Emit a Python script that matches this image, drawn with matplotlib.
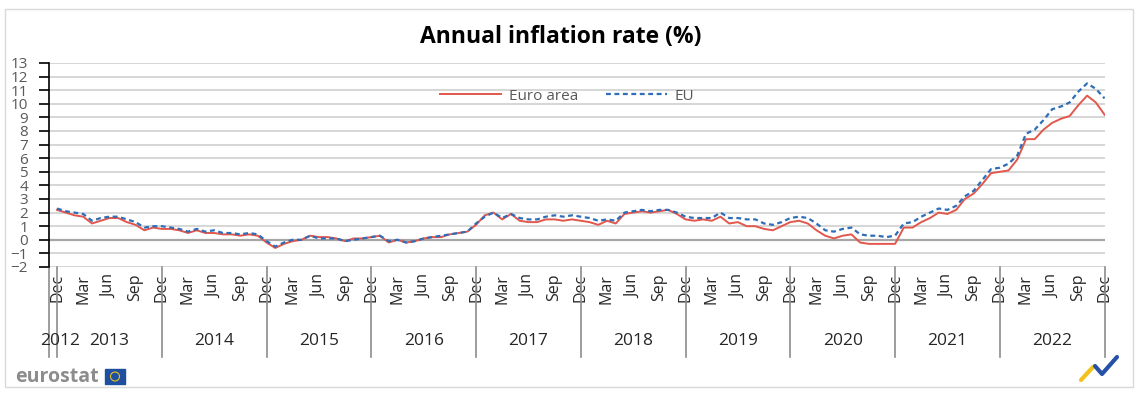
import matplotlib
matplotlib.use("Agg")
import matplotlib.pyplot as plt
import matplotlib.transforms as mtransforms
from matplotlib.patches import Rectangle, Ellipse
from matplotlib.lines import Line2D

plt.rcParams['font.family'] = ['Open Sans', 'DejaVu Sans']

# monthly annual inflation, Dec 2012 .. Dec 2022
euro_area = [2.2,
             2.0, 1.8, 1.7, 1.2, 1.4, 1.6, 1.6, 1.3, 1.1, 0.7, 0.9, 0.8,
             0.8, 0.7, 0.5, 0.7, 0.5, 0.5, 0.4, 0.4, 0.3, 0.4, 0.3, -0.2,
             -0.6, -0.3, -0.1, 0.0, 0.3, 0.2, 0.2, 0.1, -0.1, 0.1, 0.1, 0.2,
             0.3, -0.2, 0.0, -0.2, -0.1, 0.1, 0.2, 0.2, 0.4, 0.5, 0.6, 1.1,
             1.8, 2.0, 1.5, 1.9, 1.4, 1.3, 1.3, 1.5, 1.5, 1.4, 1.5, 1.4,
             1.3, 1.1, 1.4, 1.2, 1.9, 2.0, 2.1, 2.0, 2.1, 2.2, 1.9, 1.5,
             1.4, 1.5, 1.4, 1.7, 1.2, 1.3, 1.0, 1.0, 0.8, 0.7, 1.0, 1.3,
             1.4, 1.2, 0.7, 0.3, 0.1, 0.3, 0.4, -0.2, -0.3, -0.3, -0.3, -0.3,
             0.9, 0.9, 1.3, 1.6, 2.0, 1.9, 2.2, 3.0, 3.4, 4.1, 4.9, 5.0,
             5.1, 5.9, 7.4, 7.4, 8.1, 8.6, 8.9, 9.1, 9.9, 10.6, 10.1, 9.2]

eu = [2.3,
      2.1, 2.0, 1.9, 1.4, 1.6, 1.7, 1.7, 1.5, 1.3, 0.9, 1.0, 1.0,
      0.9, 0.8, 0.6, 0.8, 0.6, 0.7, 0.5, 0.5, 0.4, 0.5, 0.4, -0.1,
      -0.5, -0.2, 0.0, 0.0, 0.3, 0.1, 0.1, 0.1, -0.1, 0.0, 0.1, 0.2,
      0.3, -0.1, 0.0, -0.2, -0.1, 0.1, 0.2, 0.3, 0.4, 0.5, 0.6, 1.2,
      1.7, 2.0, 1.6, 1.9, 1.6, 1.5, 1.5, 1.7, 1.8, 1.7, 1.8, 1.7,
      1.6, 1.4, 1.5, 1.4, 2.0, 2.1, 2.2, 2.1, 2.2, 2.2, 2.0, 1.7,
      1.6, 1.6, 1.6, 2.0, 1.6, 1.6, 1.5, 1.5, 1.2, 1.1, 1.3, 1.6,
      1.7, 1.6, 1.2, 0.7, 0.6, 0.8, 0.9, 0.4, 0.3, 0.3, 0.2, 0.3,
      1.2, 1.3, 1.7, 2.0, 2.3, 2.2, 2.5, 3.2, 3.6, 4.4, 5.2, 5.3,
      5.6, 6.2, 7.8, 8.1, 8.8, 9.6, 9.8, 10.1, 10.9, 11.5, 11.1, 10.4]

month_names = ['Jan', 'Feb', 'Mar', 'Apr', 'May', 'Jun',
               'Jul', 'Aug', 'Sep', 'Oct', 'Nov', 'Dec']
shown_months = ['Mar', 'Jun', 'Sep', 'Dec']
years = [2012, 2013, 2014, 2015, 2016, 2017, 2018, 2019, 2020, 2021, 2022]

W, H = 1145, 394
fig = plt.figure(figsize=(W / 100, H / 100), dpi=100)

def fx(px):
    return px / W

def fy(py):
    return 1 - py / H

# outer frame
fig.patches.append(Rectangle((fx(5), fy(387)), fx(1133) - fx(5), fy(9) - fy(387),
                             transform=fig.transFigure, fill=False,
                             edgecolor='#D9D9D9', lw=1))

ax = fig.add_axes([fx(49), fy(267), fx(1105) - fx(49), fy(63) - fy(267)])

n = len(euro_area)
x = list(range(n))
labels = [month_names[(11 + i) % 12] for i in x]

ax.set_xlim(-0.92, n - 1 + 0.05)
ax.set_ylim(-2, 13)

for v in range(-2, 14):
    ax.axhline(v, color='#A6A6A6' if v == 0 else '#D0D0D0',
               lw=1.6 if v == 0 else 1.2, zorder=1)

ax.plot(x, euro_area, color='#E2574C', lw=1.4, label='Euro area', zorder=3)
ax.plot(x, eu, color='#2E6DB8', lw=1.6, ls=(0, (2.2, 1.6)), label='EU', zorder=4)

for s in ['top', 'right', 'bottom']:
    ax.spines[s].set_visible(False)
ax.spines['left'].set_color('black')
ax.spines['left'].set_linewidth(1.2)

ax.set_yticks(range(-2, 14))
ax.tick_params(axis='y', length=7, width=1.2, color='black', pad=8,
               labelsize=11, labelcolor='#595959')

tick_pos = [i for i in x if labels[i] in shown_months]
ax.set_xticks(tick_pos)
ax.set_xticklabels([labels[i] for i in tick_pos], rotation=90)
ax.tick_params(axis='x', length=0, pad=5, labelsize=11.5, labelcolor='#262626')

trans = mtransforms.blended_transform_factory(ax.transData, ax.transAxes)
sep_bottom = -(357 - 267) / 204
seps = [-0.92] + [i for i in x if labels[i] == 'Dec']
for s in seps:
    ax.add_line(Line2D([s, s], [0, sep_bottom], transform=trans,
                       color='#8C8C8C', lw=1.2, clip_on=False))

year_y = -(341 - 267) / 204
for k, yr in enumerate(years):
    if k == 0:
        xc = 0.3
    else:
        xc = (seps[k] + seps[k + 1]) / 2
    ax.text(xc, year_y, str(yr), transform=trans, ha='center', va='center',
            fontsize=12.5, color='#262626')

ax.legend(loc='center', bbox_to_anchor=((567 - 49) / 1056, (267 - 96) / 204),
          ncol=2, frameon=False, fontsize=11, handlelength=4.0,
          columnspacing=1.8, handletextpad=0.5, labelcolor='#595959')

fig.text(fx(561), fy(37), 'Annual inflation rate (%)', ha='center', va='center',
         fontsize=16.5, fontweight='bold', color='black')

# eurostat logo
fig.text(fx(15), fy(377), 'eurostat', ha='left', va='center', fontsize=14,
         fontweight='bold', color='#8C8C8C')
fig.patches.append(Rectangle((fx(105), fy(384)), fx(125) - fx(105), fy(369) - fy(384),
                             transform=fig.transFigure, color='#1F4FA0'))
fig.patches.append(Ellipse((fx(115), fy(376.5)), fx(9), 9 / H,
                           transform=fig.transFigure, fill=False,
                           edgecolor='#E8C020', lw=0.8))

# swoosh bottom-right
fig.lines.append(Line2D([fx(1081), fx(1093)], [fy(380), fy(367)],
                        transform=fig.transFigure, color='#F2C21B', lw=3,
                        solid_capstyle='round'))
fig.lines.append(Line2D([fx(1095), fx(1102), fx(1117)], [fy(366), fy(374), fy(357)],
                        transform=fig.transFigure, color='#2552A8', lw=3,
                        solid_capstyle='round'))

fig.savefig('out.png', dpi=100, facecolor='white')
